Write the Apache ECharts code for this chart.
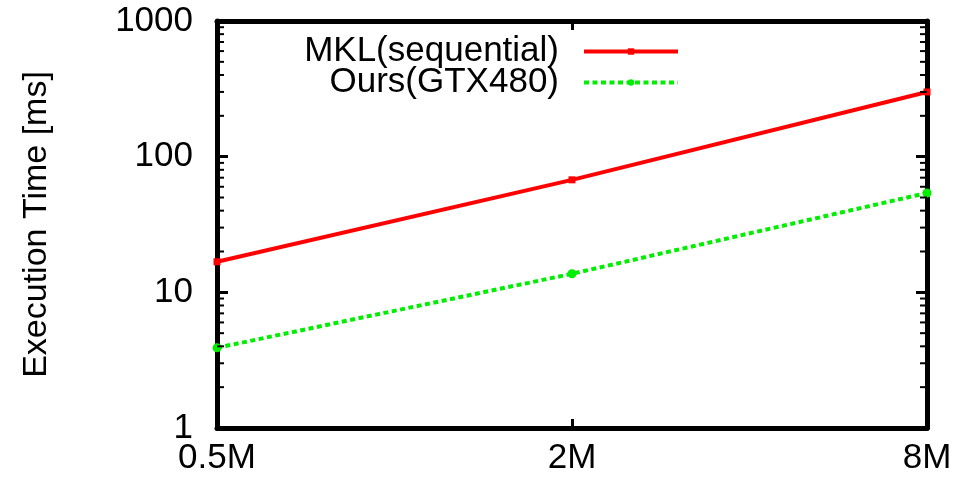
<!DOCTYPE html>
<html>
<head>
<meta charset="utf-8">
<style>
  html, body { margin: 0; padding: 0; background: #fff; }
  #chart { width: 957px; height: 482px; }
</style>
<script src="https://cdn.jsdelivr.net/npm/echarts@6/dist/echarts.min.js"></script>
</head>
<body>
<div id="chart"></div>
<script>
// Problem sizes on the x axis
const sizes = ['0.5M', '2M', '8M'];
// Execution time in milliseconds
const mklSequential = [16.8, 67.5, 300];
const oursGTX480 = [3.9, 13.7, 54];
const seriesNames = ['MKL(sequential)', 'Ours(GTX480)'];
// Decades of the log axis and the minor-tick multipliers inside each one
const decades = [1, 10, 100];
const minorSteps = [2, 3, 4, 5, 6, 7, 8, 9];

const FONT = "'Liberation Sans', Arial, Helvetica, sans-serif";
const AXIS_W = 5;
const GRID = { left: 217, right: 30, top: 21, bottom: 54 };

const chart = echarts.init(document.getElementById('chart'), null, { renderer: 'canvas' });

const yCommon = {
  type: 'log',
  logBase: 10,
  min: 1,
  max: 1000,
  axisLine: { show: true, lineStyle: { color: '#000', width: AXIS_W } },
  axisTick: { show: true, inside: true, length: 11, lineStyle: { color: '#000', width: 3 } },
  splitLine: { show: false }
};

const xCommon = {
  type: 'category',
  data: sizes,
  boundaryGap: false,
  axisLine: { show: true, lineStyle: { color: '#000', width: AXIS_W } },
  axisTick: { show: true, inside: true, length: 9, lineStyle: { color: '#000', width: 3 } },
  splitLine: { show: false }
};

chart.setOption({
  animation: false,
  backgroundColor: '#fff',
  textStyle: { fontFamily: FONT },
  grid: Object.assign({ containLabel: false }, GRID),
  legend: {
    orient: 'vertical',
    align: 'right',
    right: 272,
    top: 29,
    itemWidth: 94,
    itemHeight: 8,
    itemGap: -4,
    selectedMode: false,
    data: seriesNames,
    lineStyle: { width: 4 },
    textStyle: { fontFamily: FONT, fontSize: 35, color: '#000', padding: [0, 20, 0, 0] }
  },
  xAxis: [
    Object.assign({}, xCommon, {
      position: 'bottom',
      axisLabel: { show: true, fontFamily: FONT, fontSize: 35, color: '#000', margin: 13 }
    }),
    Object.assign({}, xCommon, {
      position: 'top',
      axisLabel: { show: false }
    })
  ],
  yAxis: [
    Object.assign({}, yCommon, {
      position: 'left',
      name: 'Execution Time [ms]',
      nameLocation: 'middle',
      nameGap: 163,
      nameTextStyle: { fontFamily: FONT, fontSize: 34, color: '#000' },
      axisLabel: {
        show: true, fontFamily: FONT, fontSize: 35, color: '#000', margin: 24,
        formatter: (v) => String(v)
      }
    }),
    Object.assign({}, yCommon, {
      position: 'right',
      axisLabel: { show: false }
    })
  ],
  series: [
    {
      name: seriesNames[0],
      type: 'line',
      data: mklSequential,
      symbol: 'rect',
      symbolSize: 7,
      showSymbol: true,
      itemStyle: { color: '#ff0000' },
      lineStyle: { color: '#ff0000', width: 4 },
      z: 3
    },
    {
      name: seriesNames[1],
      type: 'line',
      data: oursGTX480,
      symbol: 'circle',
      symbolSize: 9,
      showSymbol: true,
      itemStyle: { color: '#00ee00' },
      lineStyle: { color: '#00ee00', width: 4, type: [5, 3.5], cap: 'butt' },
      z: 2
    }
  ]
});

// Minor log ticks (2..9 of each decade) on both vertical edges, placed through the y scale
const W = chart.getWidth();
const xLeft = GRID.left;
const xRight = W - GRID.right;
const minorTicks = [];
decades.forEach((d) => {
  minorSteps.forEach((k) => {
    const y = chart.convertToPixel({ yAxisIndex: 0 }, k * d);
    minorTicks.push({
      type: 'line', silent: true, z: 10,
      shape: { x1: xLeft, y1: y, x2: xLeft + 7, y2: y },
      style: { stroke: '#000', lineWidth: 2 }
    });
    minorTicks.push({
      type: 'line', silent: true, z: 10,
      shape: { x1: xRight - 7, y1: y, x2: xRight, y2: y },
      style: { stroke: '#000', lineWidth: 2 }
    });
  });
});
chart.setOption({ graphic: minorTicks });
</script>
</body>
</html>
